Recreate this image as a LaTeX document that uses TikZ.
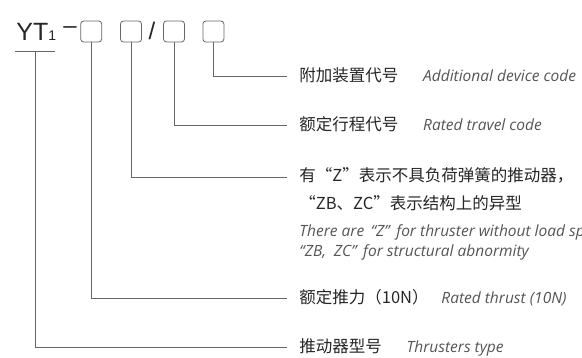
\documentclass[tikz,border=0pt]{standalone}
\usepackage{fontspec}
\setmainfont{Noto Sans CJK SC}
\newfontfamily\cjkfont{Noto Sans CJK SC}
\newfontfamily\enfont{Open Sans}
\newfontfamily\ytfont{Liberation Sans}
\usetikzlibrary{positioning}

\definecolor{textdark}{HTML}{262626}
\definecolor{textgray}{HTML}{555555}
\definecolor{linegray}{HTML}{666666}

\newcommand{\cq}[1]{\,“#1”\,}

\begin{document}
\begin{tikzpicture}
  [x=1pt, y=-1pt, line width=0.8pt,
   box/.style = {draw=linegray, rounded corners=3pt, minimum size=21pt, inner sep=0pt},
   cn/.style = {anchor=west, inner sep=0pt, text height=12.6pt, text depth=2pt,
                text=textdark, font=\cjkfont\fontsize{16.5}{20}\selectfont},
   en/.style = {inner sep=0pt, text height=11pt, text depth=0pt,
                text=textgray, font=\enfont\itshape\fontsize{15.5}{18}\selectfont},
   lead/.style = {draw=linegray, shorten >=12pt}]
  \useasboundingbox (0,0) rectangle (582,358);
  \clip (0,0) rectangle (582,358);

  % model code
  \node[anchor=base west, inner sep=0pt, text=textdark,
        font=\ytfont\fontsize{25}{30}\selectfont] (yt) at (16,41)
        {YT{\fontsize{14}{14}\selectfont 1}};
  \node[inner sep=0pt, text=textdark, font=\ytfont\fontsize{24}{28}\selectfont] (dash) at (70,30) {–};
  \node[box] (b1) at (91.2,31.5) {};
  \node[box] (b2) at (131,31.5) {};
  \node[inner sep=0pt, text=textdark, font=\ytfont\fontsize{24}{28}\selectfont] (slash) at (152,31) {/};
  \node[box] (b3) at (174,31.5) {};
  \node[box] (b4) at (213.4,31.5) {};

  % labels
  \node[cn] (t1) at (299,76) {附加装置代号};
  \node[en, right=24pt of t1] (e1) {Additional device code};
  \node[cn] (t2) at (299,125) {额定行程代号};
  \node[en, right=24pt of t2] (e2) {Rated travel code};
  \node[cn] (t3) at (299,176) {有“Z”表示不具负荷弹簧的推动器，};
  \node[cn] (t3b) at (299,204) {“ZB、ZC”表示结构上的异型};
  \node[en, anchor=west] (e3) at (299,231) {There are \cq{Z} for thruster without load spring};
  \node[en, anchor=west] (e3b) at (299,251) {“ZB,\enspace ZC”\, for structural abnormity};
  \node[cn] (t4) at (299,298) {额定推力（10N）};
  \node[en, right=12pt of t4] (e4) {Rated thrust (10N)};
  \node[cn] (t5) at (299,347) {推动器型号};
  \node[en, right=24pt of t5] (e5) {Thrusters type};

  % leader lines
  \coordinate (u1) at (15,51.7);
  \coordinate (u2) at (55,51.7);
  \coordinate (u0) at (35.7,51.7);
  \draw[linegray] (u1) -- (u2);
  \draw[lead] (u0) |- (t5.west);
  \draw[lead] (b1.south) |- (t4.west);
  \draw[lead] (b2.south) |- ([yshift=-1pt]t3.west);
  \draw[lead] (b3.south) |- (t2.west);
  \draw[lead] (b4.south) |- (t1.west);
\end{tikzpicture}
\end{document}
